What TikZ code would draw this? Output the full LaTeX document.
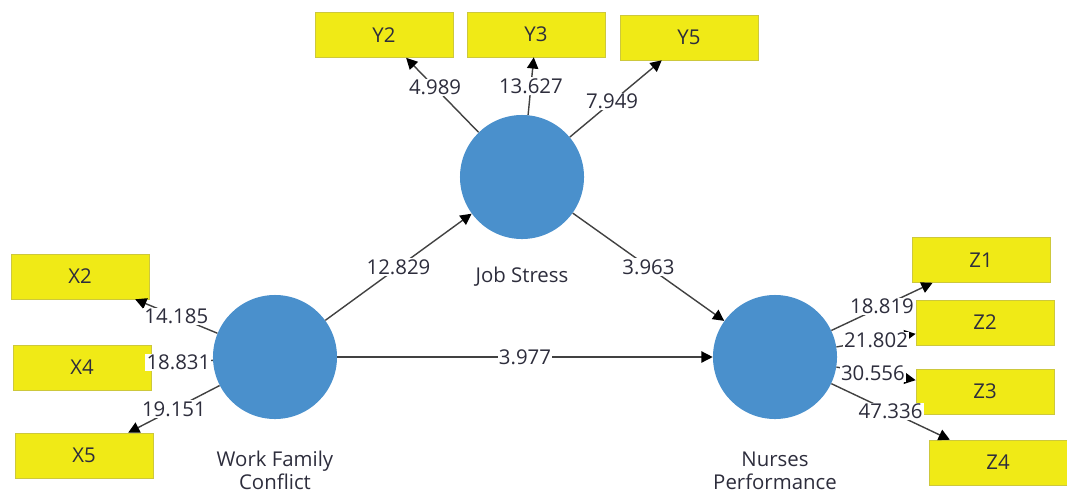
\documentclass[tikz,border=0pt]{standalone}
\usepackage{fontspec}
\setmainfont{Open Sans}
\usepackage{tikz}
\usetikzlibrary{positioning, arrows.meta}

\definecolor{latentblue}{RGB}{74,144,204}
\definecolor{itemyellow}{RGB}{240,234,22}
\definecolor{itemedge}{RGB}{205,200,60}
\definecolor{pathgray}{RGB}{65,65,65}
\definecolor{textgray}{RGB}{45,45,60}

\begin{document}
\begin{tikzpicture}[
    x=0.025cm, y=-0.025cm,
    font=\fontsize{14.5}{19}\selectfont,
    latent/.style={circle, fill=latentblue, minimum size=3.1cm, inner sep=0pt},
    item/.style={draw=itemedge, fill=itemyellow, minimum width=3.45cm, minimum height=1.125cm, text=textgray},
    latlabel/.style={align=center, text=textgray, inner sep=1pt, font=\fontsize{14.5}{16.5}\selectfont},
    coef/.style={fill=white, inner sep=0.8pt, text=textgray},
    arr/.style={-{Triangle[length=8pt, width=8pt, color=black]}, draw=pathgray, line width=1pt},
]
\useasboundingbox (0,0) rectangle (1067,495);

% --- Latent variables ---
\node[latent] (JS) at (522, 177) {};
\node[latent] (WFC) at (275, 357) {};
\node[latent] (NP) at (775, 357) {};

\node[latlabel, below=0.66cm of JS] {Job Stress};
\node[latlabel, below=0.74cm of WFC] {Work Family\\Conflict};
\node[latlabel, below=0.78cm of NP] {Nurses\\Performance};

% --- Indicators ---
\node[item] (Y2) at (384, 35) {Y2};
\node[item] (Y3) at (536, 34.5) {Y3};
\node[item] (Y5) at (689, 37.5) {Y5};

\node[item] (X2) at (80, 276.5) {X2};
\node[item] (X4) at (82, 367.5) {X4};
\node[item] (X5) at (84, 455.5) {X5};

\node[item] (Z1) at (981, 260) {Z1};
\node[item] (Z2) at (985, 322.5) {Z2};
\node[item] (Z3) at (985, 391.5) {Z3};
\node[item] (Z4) at (998, 462.5) {Z4};

% Job Stress -> indicators
\draw[arr] (JS) -- node[coef, pos=0.6] {4.989} (Y2);
\draw[arr] (JS) -- node[coef] {13.627} (Y3);
\draw[arr] (JS) -- node[coef, pos=0.46] {7.949} (Y5);

% Work Family Conflict -> indicators
\draw[arr] (WFC) -- node[coef] {14.185} (X2);
\draw[arr] (WFC) -- node[coef, pos=0.56] {18.831} (X4);
\draw[arr] (WFC) -- node[coef] {19.151} (X5);

% Nurses Performance -> indicators
\draw[arr] (NP) -- node[coef] {18.819} (Z1);
\draw[arr] (NP) -- node[coef] {21.802} (Z2);
\draw[arr] (NP) -- node[coef, pos=0.46] {30.556} (Z3);
\draw[arr] (NP) -- node[coef] {47.336} (Z4);

% --- Structural paths ---
\draw[arr] (WFC) -- node[coef] {12.829} (JS);
\draw[arr] (JS) -- node[coef] {3.963} (NP);
\draw[arr] (WFC) -- node[coef] {3.977} (NP);

\end{tikzpicture}
\end{document}
